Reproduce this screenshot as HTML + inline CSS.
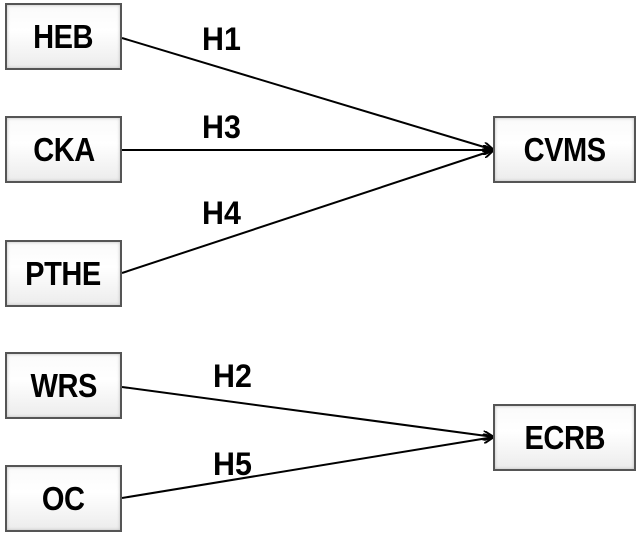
<!DOCTYPE html>
<html><head><style>
body{margin:0;width:638px;height:535px;background:#fff;overflow:hidden;position:relative;font-family:"Liberation Sans",sans-serif;}
.b{position:absolute;box-sizing:border-box;border:2px solid #555;background:linear-gradient(#fafafa,#fff 40%,#ececec);box-shadow:inset 0 0 3px #bbb;display:flex;align-items:center;justify-content:center;font-weight:bold;font-size:33px;color:#000}
.b span{display:inline-block;transform:scaleX(0.88);letter-spacing:-0.5px}
.l{position:absolute;font-weight:bold;font-size:32px;line-height:1;color:#000;transform:scaleX(0.95);transform-origin:left}
svg{position:absolute;left:0;top:0}
</style></head><body>
<svg width="638" height="535">
<defs><marker id="a" markerWidth="12" markerHeight="10" refX="11" refY="5" orient="auto" markerUnits="userSpaceOnUse"><path d="M0,0 L11,5 L0,10" fill="none" stroke="#000" stroke-width="2"/></marker></defs>
<g stroke="#000" stroke-width="2" fill="none">
<line x1="122" y1="38" x2="494" y2="150" marker-end="url(#a)"/>
<line x1="122" y1="150" x2="494" y2="150" marker-end="url(#a)"/>
<line x1="122" y1="273" x2="494" y2="150" marker-end="url(#a)"/>
<line x1="122" y1="387" x2="494" y2="437" marker-end="url(#a)"/>
<line x1="122" y1="498" x2="494" y2="437" marker-end="url(#a)"/>
</g></svg>
<div class="b" style="left:5px;top:3px;width:117px;height:67px"><span>HEB</span></div>
<div class="b" style="left:5px;top:116px;width:117px;height:67px"><span>CKA</span></div>
<div class="b" style="left:5px;top:240px;width:117px;height:67px"><span>PTHE</span></div>
<div class="b" style="left:5px;top:352px;width:117px;height:67px"><span>WRS</span></div>
<div class="b" style="left:5px;top:465px;width:117px;height:67px"><span>OC</span></div>
<div class="b" style="left:493px;top:116px;width:143px;height:67px"><span>CVMS</span></div>
<div class="b" style="left:493px;top:404px;width:143px;height:67px"><span>ECRB</span></div>
<div class="l" style="left:202px;top:23px">H1</div>
<div class="l" style="left:202px;top:111px">H3</div>
<div class="l" style="left:202px;top:197px">H4</div>
<div class="l" style="left:213px;top:360px">H2</div>
<div class="l" style="left:213px;top:448px">H5</div>
</body></html>
